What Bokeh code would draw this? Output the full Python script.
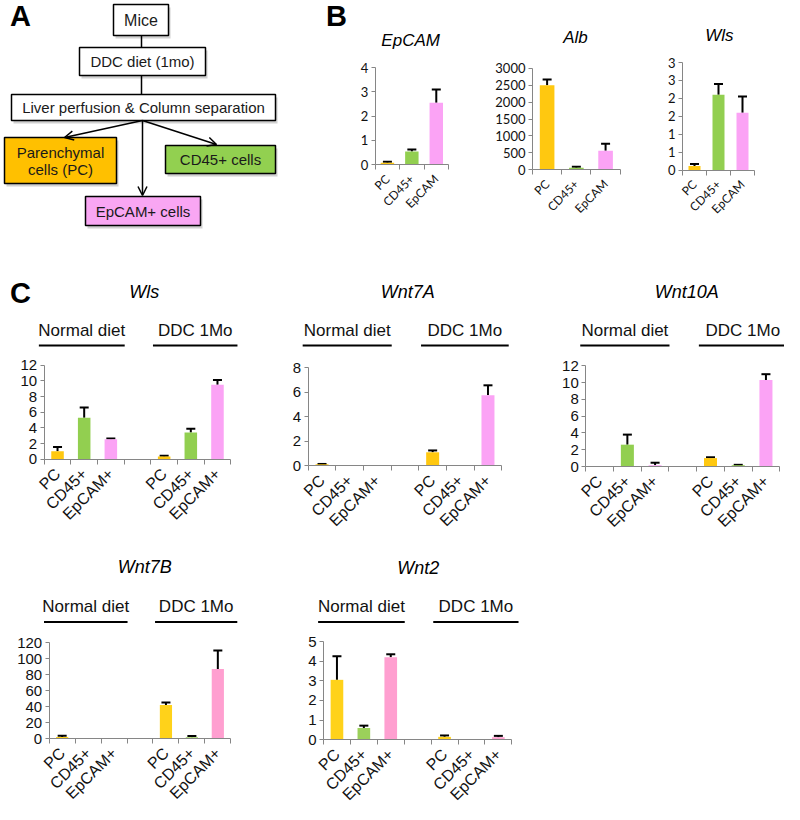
from math import pi
from bokeh.plotting import figure
from bokeh.models import (Range1d, LinearAxis, FixedTicker, Whisker, TeeHead,
                          OpenHead, Arrow, ColumnDataSource)
from bokeh.embed import file_html
from bokeh.resources import INLINE
from bokeh.core.properties import value

# ---------------- data ----------------
B_CATS = ["PC", "CD45+", "EpCAM"]
B_EPCAM = [0.08, 0.55, 2.55]
B_EPCAM_ERR = [0.05, 0.08, 0.55]
B_ALB = [2500, 60, 560]
B_ALB_ERR = [170, 30, 210]
B_WLS = [0.12, 2.1, 1.6]
B_WLS_ERR = [0.05, 0.3, 0.45]
B_WLS_TICKLABELS = ["0", "1", "1", "2", "2", "3", "3"]

C_CATS = ["PC", "CD45+", "EpCAM+"]
GROUPS = ["Normal diet", "DDC 1Mo"]
WLS_N, WLS_D = [1.0, 5.3, 2.55], [0.35, 3.4, 9.5]
WLS_N_ERR, WLS_D_ERR = [0.55, 1.3, 0.08], [0.1, 0.5, 0.6]
WNT7A_N, WNT7A_D = [0.12, 0.0, 0.0], [1.1, 0.05, 5.75]
WNT7A_N_ERR, WNT7A_D_ERR = [0.03, 0.0, 0.0], [0.15, 0.0, 0.8]
WNT10A_N, WNT10A_D = [0.05, 2.6, 0.15], [1.0, 0.15, 10.3]
WNT10A_N_ERR, WNT10A_D_ERR = [0.0, 1.2, 0.3], [0.1, 0.05, 0.7]
WNT7B_N, WNT7B_D = [2.0, 0.0, 0.0], [42.0, 1.5, 87.0]
WNT7B_N_ERR, WNT7B_D_ERR = [1.5, 0.0, 0.0], [3.0, 1.5, 23.0]
WNT2_N, WNT2_D = [3.05, 0.6, 4.2], [0.15, 0.03, 0.13]
WNT2_N_ERR, WNT2_D_ERR = [1.2, 0.12, 0.15], [0.07, 0.0, 0.07]

# ---------------- style ----------------
FONT = "Liberation Sans"
AX = "#868686"
COLS_A = ["#FFC810", "#92CF50", "#FBA3F5"]
COLS_B = ["#FFD21A", "#9BD05A", "#FF9FD0"]

W, H = 784, 804
p = figure(width=W, height=H, x_range=Range1d(8, 8 + W), y_range=Range1d(8 + H, 8),
           output_backend="svg", toolbar_location=None, min_border=0,
           x_axis_location=None, y_axis_location=None)
p.outline_line_color = None
p.background_fill_color = "white"
p.border_fill_color = "white"
p.grid.visible = False

# ---------------- panel A: flow chart ----------------
BOXES = [
    (121, 176, 12, 43, "#FFFFFF", ["Mice"], 16),
    (87, 213, 55, 83, "#FFFFFF", ["DDC diet (1mo)"], 15),
    (19, 283, 102, 128, "#FFFFFF", ["Liver perfusion & Column separation"], 15),
    (12, 124, 145, 191, "#FFC000", ["Parenchymal", "cells (PC)"], 15),
    (173, 283, 153, 181, "#92D050", ["CD45+ cells"], 15),
    (93, 208, 204, 233, "#F9A6F3", ["EpCAM+ cells"], 15),
]
for (l, r, t, b, c, lines, fs) in BOXES:
    p.quad(left=l + 2, right=r + 2, top=t + 3, bottom=b + 3, fill_color="#9A9A9A",
           fill_alpha=0.45, line_color=None)
for (l, r, t, b, c, lines, fs) in BOXES:
    p.quad(left=l, right=r, top=t, bottom=b, fill_color=c, line_color="black", line_width=1.5)
    n = len(lines)
    cy = (t + b) / 2
    ys = [cy + (i - (n - 1) / 2) * 17 for i in range(n)]
    p.text(x=[(l + r) / 2] * n, y=ys, text=lines, text_align="center", text_baseline="middle",
           text_font=value(FONT), text_font_size=f"{fs}px", text_color="#1a1a1a")

p.segment(x0=[149, 149], y0=[43, 83], x1=[149, 149], y1=[55, 102], line_color="black", line_width=1.5)
for (xe, ye) in [(72, 145), (224, 152), (150, 203)]:
    p.add_layout(Arrow(x_start=150, y_start=128, x_end=xe, y_end=ye, line_width=1.5,
                       end=OpenHead(size=9, line_width=1.5, line_color="black")))

p.text(x=[28, 344, 28], y=[23.5, 23, 300], text=["A", "B", "C"], text_align="center",
       text_baseline="middle", text_font=value(FONT), text_font_size="29px",
       text_font_style="bold", text_color="black")


def tick_font_for(key):
    return "Lato" if key.startswith("b") else FONT


# ---------------- chart helper ----------------
def add_chart(key, names, slots, vals, errs, cols, n, box, vmax, yticks, ylabels,
              bar_w, tick_fs, cat_fs, cat_font, title, title_x, title_y, title_fs,
              groups=None):
    x0, x1, y0, ytop = box
    sx = (x1 - x0) / n
    sy = (y0 - ytop) / vmax
    kx, ky = key + "_x", key + "_y"
    p.extra_x_ranges[kx] = Range1d((8 - x0) / sx, (8 + W - x0) / sx)
    p.extra_y_ranges[ky] = Range1d((y0 - (8 + H)) / sy, (y0 - 8) / sy)

    centers = [s + 0.5 for s in slots]
    src = ColumnDataSource(dict(x=centers, top=vals, color=cols))
    p.vbar(x="x", top="top", width=bar_w, fill_color="color", line_color=None,
           source=src, x_range_name=kx, y_range_name=ky)
    ex = [c for c, e in zip(centers, errs) if e > 0]
    lo = [v for v, e in zip(vals, errs) if e > 0]
    hi = [v + e for v, e in zip(vals, errs) if e > 0]
    esrc = ColumnDataSource(dict(x=ex, lower=lo, upper=hi))
    p.add_layout(Whisker(source=esrc, base="x", lower="lower", upper="upper",
                         dimension="height", line_color="black", line_width=2,
                         lower_head=None,
                         upper_head=TeeHead(size=9, line_width=2, line_color="black"),
                         x_range_name=kx, y_range_name=ky))

    ya = LinearAxis(x_range_name=kx, y_range_name=ky, fixed_location=0, bounds=(0, vmax),
                    ticker=FixedTicker(ticks=yticks), axis_line_color=AX,
                    major_tick_line_color=AX, major_tick_out=4, major_tick_in=0,
                    minor_tick_line_color=None, major_label_standoff=3,
                    major_label_text_font=tick_font_for(key),
                    major_label_text_font_size=f"{tick_fs}px",
                    major_label_text_color="#111111")
    if ylabels is not None:
        ya.major_label_overrides = {t: s for t, s in zip(yticks, ylabels)}
    p.add_layout(ya, "left")

    xa = LinearAxis(x_range_name=kx, y_range_name=ky, fixed_location=0, bounds=(0, n),
                    ticker=FixedTicker(ticks=centers, minor_ticks=list(range(n + 1))),
                    axis_line_color=AX, major_tick_line_color=None,
                    minor_tick_line_color=AX, minor_tick_out=5, minor_tick_in=0,
                    major_label_orientation=pi / 4, major_label_standoff=6,
                    major_label_overrides={c: nm for c, nm in zip(centers, names)},
                    major_label_text_font=cat_font,
                    major_label_text_font_size=f"{cat_fs}px",
                    major_label_text_color="#111111")
    p.add_layout(xa, "below")

    p.text(x=[title_x], y=[title_y], text=[title], x_range_name=kx, text_align="center",
           text_baseline="middle", text_font=value(FONT), text_font_size=f"{title_fs}px",
           text_font_style="italic", text_color="black")

    if groups is not None:
        label_y, ul_y = groups
        spans = [(-0.2, 3.02), (4.08, 7.25)]
        for g, (a, b) in zip(GROUPS, spans):
            p.segment(x0=[a], y0=[ul_y], x1=[b], y1=[ul_y], x_range_name=kx,
                      line_color="black", line_width=2)
            p.text(x=[(a + b) / 2], y=[label_y], text=[g], x_range_name=kx,
                   text_align="center", text_baseline="middle", text_font=value(FONT),
                   text_font_size="17px", text_color="#111111")


# ---------------- panel B ----------------
B_SLOTS = [0, 1, 2]
add_chart("b1", B_CATS, B_SLOTS, B_EPCAM, B_EPCAM_ERR, COLS_A, 3, (382.7, 456, 172.3, 75),
          4, [0, 1, 2, 3, 4], None, 0.55, 13, 12, "Lato", "EpCAM", 1.45, 48, 17)
add_chart("b2", B_CATS, B_SLOTS, B_ALB, B_ALB_ERR, COLS_A, 3, (540, 627.7, 177.3, 75.7),
          3000, [0, 500, 1000, 1500, 2000, 2500, 3000], None, 0.5, 13, 12, "Lato",
          "Alb", 1.47, 45, 17)
add_chart("b3", B_CATS, B_SLOTS, B_WLS, B_WLS_ERR, COLS_A, 3, (690, 762, 177.7, 70),
          3, [0, 0.5, 1, 1.5, 2, 2.5, 3], B_WLS_TICKLABELS, 0.5, 13, 12, "Lato",
          "Wls", 1.54, 43, 17)

# ---------------- panel C ----------------
C_SLOTS = [0, 1, 2, 4, 5, 6]
C_NAMES = C_CATS + C_CATS
ROW1 = (337.5, 353)
ROW2 = (614, 629.5)
add_chart("c1", C_NAMES, C_SLOTS, WLS_N + WLS_D, WLS_N_ERR + WLS_D_ERR, COLS_A * 2, 7,
          (51.7, 238.3, 466.7, 372.7), 12, [0, 2, 4, 6, 8, 10, 12], None, 0.47, 15, 16,
          FONT, "Wls", 3.75, 299, 18, ROW1)
add_chart("c2", C_NAMES, C_SLOTS, WNT7A_N + WNT7A_D, WNT7A_N_ERR + WNT7A_D_ERR, COLS_A * 2, 7,
          (315.7, 509.3, 473.3, 375), 8, [0, 2, 4, 6, 8], None, 0.47, 15, 16,
          FONT, "Wnt7A", 3.6, 299, 18, ROW1)
add_chart("c3", C_NAMES, C_SLOTS, WNT10A_N + WNT10A_D, WNT10A_N_ERR + WNT10A_D_ERR, COLS_A * 2, 7,
          (593.3, 787.3, 474, 373.3), 12, [0, 2, 4, 6, 8, 10, 12], None, 0.47, 15, 16,
          FONT, "Wnt10A", 3.64, 299, 18, ROW1)
add_chart("c4", C_NAMES, C_SLOTS, WNT7B_N + WNT7B_D, WNT7B_N_ERR + WNT7B_D_ERR, COLS_B * 2, 7,
          (56.7, 238.3, 746, 650), 120, [0, 20, 40, 60, 80, 100, 120], None, 0.47, 15, 16,
          FONT, "Wnt7B", 3.68, 574, 18, ROW2)
add_chart("c5", C_NAMES, C_SLOTS, WNT2_N + WNT2_D, WNT2_N_ERR + WNT2_D_ERR, COLS_B * 2, 7,
          (331, 519.3, 747.3, 649), 5, [0, 1, 2, 3, 4, 5], None, 0.47, 15, 16,
          FONT, "Wnt2", 3.52, 575, 18, ROW2)

open("out.html", "w").write(file_html(p, INLINE))
